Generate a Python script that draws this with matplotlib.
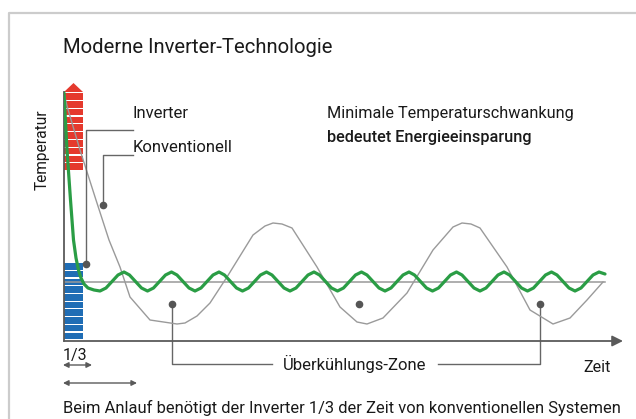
import matplotlib
matplotlib.use("Agg")
import matplotlib.pyplot as plt
from matplotlib.lines import Line2D
from matplotlib.patches import Rectangle, Polygon

plt.rcParams['font.family'] = ['Roboto', 'DejaVu Sans']

# time (px-like units from the y axis) / temperature (units above the x axis)
green_t = [0, 3, 6.5, 9.5, 12, 14.5, 17, 20, 24, 30,
           36, 42, 48, 54, 60, 65.5, 71.5, 77.5,
           83.5, 89.5, 95.5, 101.5, 107.5, 113, 119, 125,
           131, 137, 143, 149, 155, 160.5, 166.5, 172.5,
           178.5, 184.5, 190.5, 196.5, 202.5, 208, 214, 220,
           226, 232, 238, 244, 250, 255.5, 261.5, 267.5,
           273.5, 279.5, 285.5, 291.5, 297.5, 303, 309, 315,
           321, 327, 333, 339, 345, 350.5, 356.5, 362.5,
           368.5, 374.5, 380.5, 386.5, 392.5, 398, 404, 410,
           416, 422, 428, 434, 440, 445.5, 451.5, 457.5,
           463.5, 469.5, 475.5, 481.5, 487.5, 493, 499, 505,
           511, 517, 523, 529, 535, 541]
green_T = [248, 191, 141, 101, 83, 71, 63, 57, 53, 51] + \
          [50, 53, 59.5, 66, 69, 66, 59.5, 53] * 10 + \
          [50, 53, 59.5, 66, 69, 67]

gray_t = [0, 3, 16, 32, 45, 56, 66, 86, 113, 121, 133, 146, 163, 189, 201, 209,
          218, 228, 253, 276, 293, 303, 319, 343, 369, 389, 398, 407, 416, 443,
          466, 489, 506, 523, 539]
gray_T = [248, 235, 191, 141, 101, 74, 44, 21, 17, 18, 25, 38, 64, 106, 115, 118,
          117, 113, 74, 34, 19, 17, 23, 48, 91, 114, 118, 117, 113, 74,
          31, 17, 23, 41, 59]

setpoint = 59
t_end = 541
red_range = (171, 249)
blue_range = (2, 79)
n_stripes = 10
zone_dots_t = [108, 295, 476]
zone_dots_T = 37

W, H = 636, 419
fig = plt.figure(figsize=(W / 100, H / 100), dpi=100)
ax = fig.add_axes([64 / W, (H - 341) / H, (623 - 64) / W, (341 - 83) / H])
ax.set_xlim(0, 559)
ax.set_ylim(0, 258)
ax.axis('off')

axis_c = '#5a5a5a'
lead_c = '#666666'
txt_c = '#1a1a1a'

# bars on the y axis
for (lo, hi), col in [(red_range, '#e5392d'), (blue_range, '#1f6db5')]:
    step = (hi - lo) / n_stripes
    for i in range(n_stripes):
        ax.add_patch(Rectangle((0, lo + i * step), 19, step - 1.2, color=col, lw=0, zorder=2))
ax.add_patch(Polygon([(0, red_range[1]), (19, red_range[1]), (9.5, 258)],
                     closed=True, color='#e5392d', lw=0, zorder=2))

# axes
ax.plot([0, 0], [0, 249], color=axis_c, lw=1.3, zorder=4, clip_on=False)
ax.annotate('', xy=(559, 0), xytext=(0, 0),
            arrowprops=dict(arrowstyle='-|>', color=axis_c, lw=1.3,
                            mutation_scale=16, shrinkA=0, shrinkB=0),
            annotation_clip=False, zorder=4)

ax.plot([0, t_end], [setpoint, setpoint], color='#999999', lw=1.1, zorder=3)
ax.plot(gray_t, gray_T, color='#9a9a9a', lw=1.0, zorder=3)
ax.plot(green_t, green_T, color='#2a9d45', lw=2.3, zorder=5, solid_joinstyle='round',
        solid_capstyle='round')

# labels with leader lines
ax.text(69, 223, 'Inverter', fontsize=12, color=txt_c, ha='left', va='baseline')
ax.text(69, 189, 'Konventionell', fontsize=12, color=txt_c, ha='left', va='baseline')
ax.plot([69, 22, 22], [211, 211, 77], color=lead_c, lw=1, zorder=6)
ax.plot(22, 77, 'o', color='#555555', ms=4.5, zorder=6)
ax.plot([69, 39, 39], [186, 186, 136], color=lead_c, lw=1, zorder=6)
ax.plot(39, 136, 'o', color='#555555', ms=4.5, zorder=6)

ax.text(263, 223, 'Minimale Temperaturschwankung', fontsize=11.7, color=txt_c,
        ha='left', va='baseline')
ax.text(263, 199, 'bedeutet Energieeinsparung', fontsize=11.7, color=txt_c,
        ha='left', va='baseline', fontweight='medium')

for t in zone_dots_t:
    ax.plot(t, zone_dots_T, 'o', color='#555555', ms=4.5, zorder=6)
ax.plot([zone_dots_t[0], zone_dots_t[0], 208], [zone_dots_T, -23, -23],
        color=lead_c, lw=1, clip_on=False)
ax.plot([374, zone_dots_t[2], zone_dots_t[2]], [-23, -23, zone_dots_T],
        color=lead_c, lw=1, clip_on=False)
ax.text(290.5, -23, 'Überkühlungs-Zone', fontsize=12, color=txt_c,
        ha='center', va='center', clip_on=False)
ax.text(519, -31, 'Zeit', fontsize=11.5, color=txt_c, ha='left', va='baseline')

ax.text(-1, -19, '1/3', fontsize=11.5, color=txt_c, ha='left', va='baseline')
ax.annotate('', xy=(28, -24), xytext=(-1, -24),
            arrowprops=dict(arrowstyle='<|-|>', color=axis_c, lw=1,
                            mutation_scale=8, shrinkA=0, shrinkB=0),
            annotation_clip=False)
ax.annotate('', xy=(73, -42), xytext=(-1, -42),
            arrowprops=dict(arrowstyle='<|-|>', color=axis_c, lw=1,
                            mutation_scale=8, shrinkA=0, shrinkB=0),
            annotation_clip=False)

# figure texts
fig.text(63 / W, 1 - 53 / H, 'Moderne Inverter-Technologie', fontsize=14.6,
         color=txt_c, ha='left', va='baseline')
fig.text(42.5 / W, 1 - 150 / H, 'Temperatur', fontsize=11.2, color=txt_c,
         rotation=90, ha='center', va='center')
fig.text(63 / W, 1 - 413 / H,
         'Beim Anlauf benötigt der Inverter 1/3 der Zeit von konventionellen Systemen',
         fontsize=11.9, color=txt_c, ha='left', va='baseline')

# frame
fig.add_artist(Line2D([9 / W, 9 / W, 1], [0, 1 - 13 / H, 1 - 13 / H],
                      color='#cccccc', lw=1.6, transform=fig.transFigure))

fig.savefig('out.png', dpi=100)
